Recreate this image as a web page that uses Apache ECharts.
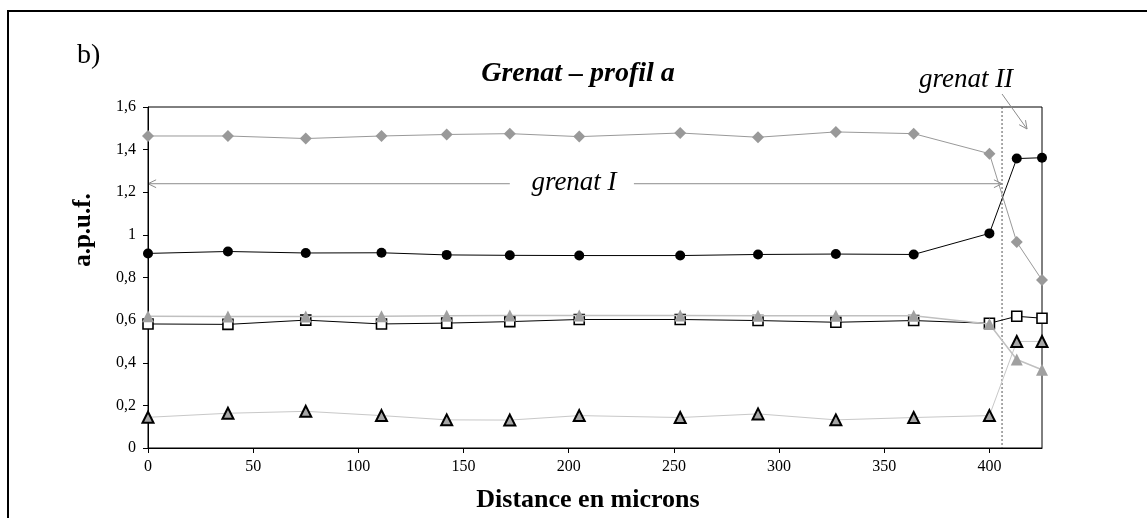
<!DOCTYPE html>
<html>
<head>
<meta charset="utf-8">
<script src="https://cdn.jsdelivr.net/npm/echarts@6/dist/echarts.min.js"></script>
<style>html,body{margin:0;padding:0;background:#fff}#c{width:1147px;height:518px}</style>
</head>
<body>
<div id="c"></div>
<script>
// Distance (microns)
var distances = [0, 38, 75, 111, 142, 172, 205, 253, 290, 327, 364, 400, 413, 425];
// Series values (a.p.u.f.)
var diamondGray = [1.464, 1.464, 1.452, 1.464, 1.471, 1.475, 1.461, 1.478, 1.458, 1.483, 1.475, 1.381, 0.966, 0.788];
var circleBlack = [0.913, 0.922, 0.915, 0.916, 0.906, 0.904, 0.903, 0.903, 0.908, 0.910, 0.908, 1.007, 1.358, 1.362];
var triangleGray = [0.618, 0.617, 0.617, 0.618, 0.621, 0.622, 0.622, 0.622, 0.62, 0.62, 0.62, 0.582, 0.415, 0.367];
var squareWhite = [0.582, 0.580, 0.600, 0.582, 0.586, 0.593, 0.603, 0.603, 0.598, 0.590, 0.598, 0.585, 0.618, 0.609];
var triangleOutlined = [0.144, 0.163, 0.172, 0.152, 0.132, 0.131, 0.152, 0.143, 0.16, 0.132, 0.143, 0.152, 0.5, 0.5];
// Axis ticks
var yTicks = [0, 0.2, 0.4, 0.6, 0.8, 1, 1.2, 1.4, 1.6];
var xTickStep = 50;
// Annotation anchors (data units)
var boundaryX = 406;
var grenatIY = 1.24;

function pairs(vals) { return distances.map(function (d, i) { return [d, vals[i]]; }); }

var chart = echarts.init(document.getElementById('c'));
var serif = 'Liberation Serif';

chart.setOption({
  animation: false,
  backgroundColor: '#fff',
  grid: { left: 148, top: 107, right: 105, bottom: 70, show: true, borderColor: '#000', borderWidth: 1, outerBoundsMode: 'none' },
  xAxis: {
    type: 'value', min: 0, max: 425, interval: xTickStep,
    axisLine: { lineStyle: { color: '#000', width: 1 } },
    axisTick: { inside: false, length: 5, lineStyle: { color: '#000' } },
    axisLabel: { fontFamily: serif, fontSize: 16, color: '#000', margin: 11, showMaxLabel: false },
    splitLine: { show: false }
  },
  yAxis: {
    type: 'value', min: yTicks[0], max: yTicks[yTicks.length - 1], interval: 0.2,
    axisLine: { show: true, lineStyle: { color: '#000', width: 1 } },
    axisTick: { show: true, inside: false, length: 5, lineStyle: { color: '#000' } },
    axisLabel: { fontFamily: serif, fontSize: 16, color: '#000', margin: 12,
      formatter: function (v) { return String(Math.round(v * 10) / 10).replace('.', ','); } },
    splitLine: { show: false }
  },
  series: [
    { type: 'line', data: pairs(triangleOutlined), symbol: 'triangle', symbolSize: 11,
      lineStyle: { color: '#c8c8c8', width: 1 },
      itemStyle: { color: '#a6a6a6', borderColor: '#000', borderWidth: 2 }, z: 2 },
    { type: 'line', data: pairs(squareWhite), symbol: 'rect', symbolSize: 10,
      lineStyle: { color: '#000', width: 1 },
      itemStyle: { color: '#fff', borderColor: '#000', borderWidth: 1.6 }, z: 3 },
    { type: 'line', data: pairs(triangleGray), symbol: 'triangle', symbolSize: 12,
      lineStyle: { color: '#c0c0c0', width: 1.5 },
      itemStyle: { color: '#a0a0a0', borderWidth: 0 }, z: 4 },
    { type: 'line', data: pairs(circleBlack), symbol: 'circle', symbolSize: 10,
      lineStyle: { color: '#000', width: 1 },
      itemStyle: { color: '#000', borderWidth: 0 }, z: 5 },
    { type: 'line', data: pairs(diamondGray), symbol: 'diamond', symbolSize: 12,
      lineStyle: { color: '#999', width: 1 },
      itemStyle: { color: '#999', borderWidth: 0 }, z: 6 }
  ]
});

function px(x, y) { return chart.convertToPixel({ gridIndex: 0 }, [x, y]); }

var bTop = px(boundaryX, 1.6), bBot = px(boundaryX, 0);
var aL = px(0, grenatIY), aR = px(boundaryX, grenatIY);
var gapL = px(172, grenatIY), gapR = px(231, grenatIY);
var g2s = [bTop[0], bTop[1] - 13], g2e = [bTop[0] + 25, bTop[1] + 22];
var ang = Math.atan2(g2e[1] - g2s[1], g2e[0] - g2s[0]);
function head(tip, a) {
  var l = 9, w = 0.45;
  return [[tip[0] - l * Math.cos(a - w), tip[1] - l * Math.sin(a - w)], tip,
          [tip[0] - l * Math.cos(a + w), tip[1] - l * Math.sin(a + w)]];
}
var gs = { stroke: '#8c8c8c', lineWidth: 1, fill: null };

chart.setOption({
  graphic: [
    { type: 'polyline', shape: { points: [[8, 620], [8, 11], [1200, 11]] }, style: { stroke: '#000', lineWidth: 2, fill: null } },
    { type: 'text', x: 77, y: 42, style: { text: 'b)', font: '28px "Liberation Serif"', fill: '#000' } },
    { type: 'text', x: 578, y: 74, style: { text: 'Grenat – profil a', font: 'italic bold 28px "Liberation Serif"', fill: '#000', textAlign: 'center', textVerticalAlign: 'middle' } },
    { type: 'text', x: 84, y: 230, rotation: Math.PI / 2, style: { text: 'a.p.u.f.', font: 'bold 25px "Liberation Serif"', fill: '#000', textAlign: 'center', textVerticalAlign: 'middle' } },
    { type: 'text', x: 588, y: 500, style: { text: 'Distance en microns', font: 'bold 26px "Liberation Serif"', fill: '#000', textAlign: 'center', textVerticalAlign: 'middle' } },
    { type: 'line', shape: { x1: bTop[0], y1: bTop[1], x2: bBot[0], y2: bBot[1] }, style: { stroke: '#555', lineWidth: 1, lineDash: [2, 2] } },
    { type: 'line', shape: { x1: aL[0], y1: aL[1], x2: gapL[0], y2: gapL[1] }, style: gs },
    { type: 'line', shape: { x1: gapR[0], y1: gapR[1], x2: aR[0], y2: aR[1] }, style: gs },
    { type: 'polyline', shape: { points: head(aL, Math.PI) }, style: gs },
    { type: 'polyline', shape: { points: head(aR, 0) }, style: gs },
    { type: 'text', x: 574, y: aL[1] - 1, style: { text: 'grenat I', font: 'italic 27px "Liberation Serif"', fill: '#000', textAlign: 'center', textVerticalAlign: 'middle' } },
    { type: 'text', x: 966, y: 80, style: { text: 'grenat II', font: 'italic 27px "Liberation Serif"', fill: '#000', textAlign: 'center', textVerticalAlign: 'middle' } },
    { type: 'line', shape: { x1: g2s[0], y1: g2s[1], x2: g2e[0], y2: g2e[1] }, style: gs },
    { type: 'polyline', shape: { points: head(g2e, ang) }, style: gs }
  ]
});
</script>
</body>
</html>
